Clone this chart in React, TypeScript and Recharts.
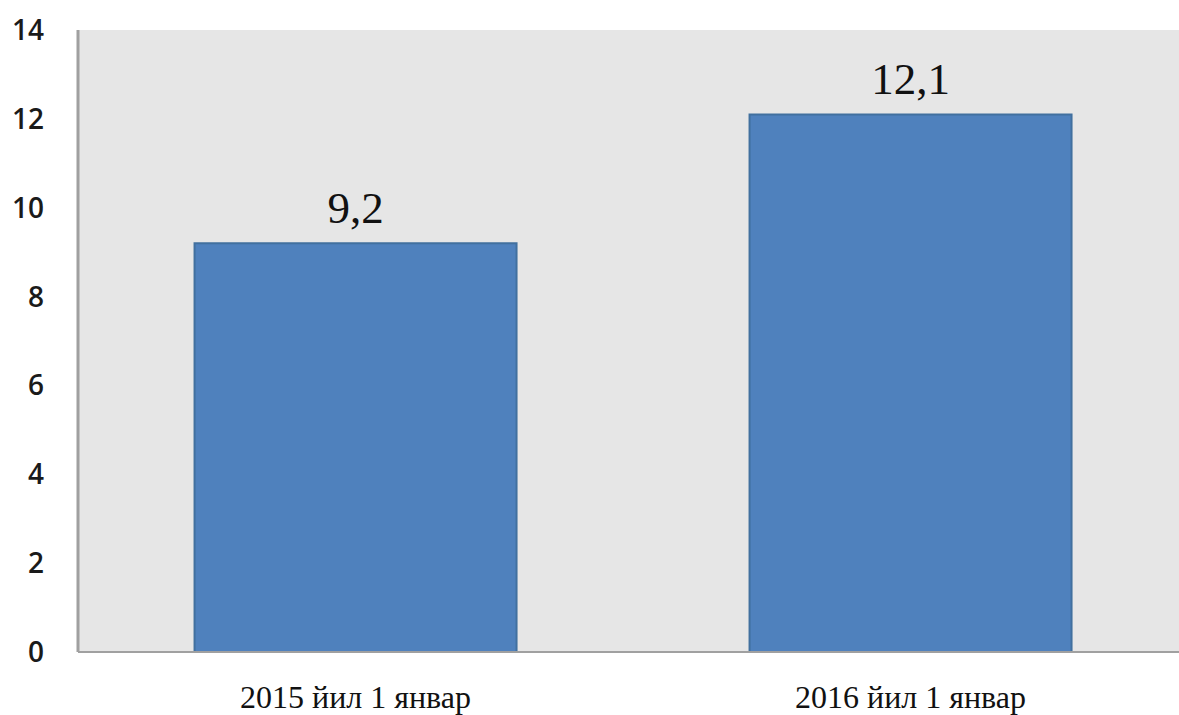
// App.tsx
import { BarChart, Bar, XAxis, YAxis, CartesianGrid, LabelList } from 'recharts';

// ---------- Data ----------
const CATEGORIES = ['2015 йил 1 январ', '2016 йил 1 январ'];
const VALUES = [9.2, 12.1];
const Y_TICKS = [0, 2, 4, 6, 8, 10, 12, 14];

const data = CATEGORIES.map((name, i) => ({ name, value: VALUES[i] }));

const commaDecimal = (v: any) => String(v).replace('.', ',');

export default function App() {
  return (
    <div style={{ position: 'fixed', left: 0, top: 0, width: 1179, height: 715, overflow: 'hidden', background: '#fff' }}>
      <BarChart
        width={1188}
        height={715}
        data={data}
        margin={{ top: 30, right: 0, bottom: 0, left: 0 }}
        barCategoryGap="21%"
      >
        <CartesianGrid fill="#E6E6E6" horizontal={false} vertical={false} />
        <XAxis
          dataKey="name"
          height={63}
          tickLine={false}
          tickSize={0}
          tickMargin={33}
          axisLine={{ stroke: '#A0A0A0', strokeWidth: 2 }}
          tick={{ fill: '#111', fontSize: 32, fontFamily: '"Liberation Serif", "DejaVu Serif", serif' }}
        />
        <YAxis
          width={78}
          domain={[0, 14]}
          ticks={Y_TICKS}
          interval={0}
          tickLine={false}
          tickSize={0}
          tickMargin={34}
          axisLine={{ stroke: '#A0A0A0', strokeWidth: 3 }}
          tick={{ fill: '#1a1a1a', fontSize: 28, fontWeight: 600, fontFamily: '"Open Sans", sans-serif' }}
        />
        <Bar dataKey="value" fill="#4F81BD" stroke="#41709F" strokeWidth={2} isAnimationActive={false}>
          <LabelList
            dataKey="value"
            position="top"
            offset={20}
            formatter={commaDecimal}
            style={{ fill: '#111', fontSize: 45, fontFamily: '"Liberation Serif", "DejaVu Serif", serif' }}
          />
        </Bar>
      </BarChart>
    </div>
  );
}
